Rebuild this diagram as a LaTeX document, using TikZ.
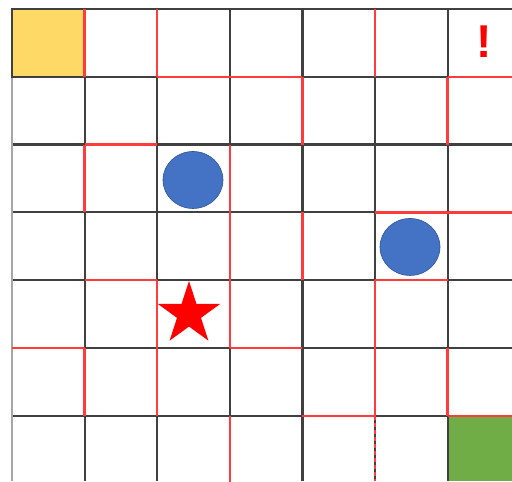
\documentclass[tikz,border=0pt]{standalone}
\usepackage{fontspec}
\setmainfont{Liberation Sans}
\usetikzlibrary{shapes.geometric}
\definecolor{gridblack}{HTML}{404040}
\definecolor{gridred}{HTML}{FF3B3B}
\definecolor{cellyellow}{HTML}{FFD966}
\definecolor{cellgreen}{HTML}{70AD47}
\definecolor{dotblue}{HTML}{4472C4}
\definecolor{dotedge}{HTML}{2F5597}
\begin{document}
\begin{tikzpicture}[x=72.6pt,y=-67.8pt,
  blk/.style={draw=gridblack,line width=2.2pt},
  redl/.style={draw=gridred,line width=2.4pt},
  dot/.style={ellipse,fill=dotblue,draw=dotedge,line width=0.6pt,minimum width=60pt,minimum height=57pt,inner sep=0pt}]
\useasboundingbox[fill=white] (-0.1653,-0.1327) rectangle (6.887,6.962);
% filled cells
\fill[cellyellow] (0,0) rectangle (1,1);
\fill[cellgreen] (6,6) rectangle (6.887,6.962);
% black grid
\foreach \c in {1,...,6} \draw[blk] (\c,0) -- (\c,6.962);
\foreach \r in {0,...,6} \draw[blk] (0,\r) -- (6.887,\r);
\draw[draw=gray!70,line width=2.2pt] (0,0) -- (0,6.962);
\draw[blk] (0,0) rectangle (1,1);
% red vertical segments (column line, row)
\foreach \c/\r in {1/0,2/0,5/0, 4/1,6/1, 1/2,3/2, 3/3,4/3, 2/4,3/4,5/4, 1/5,2/5,5/5,6/5, 3/6}
  \draw[redl] (\c,\r) -- (\c,\r+1);
\draw[redl,dash pattern=on 4pt off 3pt] (5,6) -- (5,6.962);
% red horizontal segments (row line, column)
\foreach \r/\c in {1/2,1/3,1/6, 2/1, 3/5,3/6, 4/1,4/5, 5/0,5/3, 6/4,6/6}
  \draw[redl] (\c,\r) -- (\c+1,\r);
% objects
\node[dot] (ballA) at (2.493,2.522) {};
\node[dot] (ballB) at (5.482,3.510) {};
\node[star,star points=5,star point ratio=2.618,minimum size=66pt,inner sep=0pt,fill=red] (goalstar) at (2.438,4.498) {};
\node[text=red,font=\fontsize{46}{46}\selectfont\bfseries,inner sep=0pt] (warn) at (6.501,0.487) {!};
\end{tikzpicture}
\end{document}
